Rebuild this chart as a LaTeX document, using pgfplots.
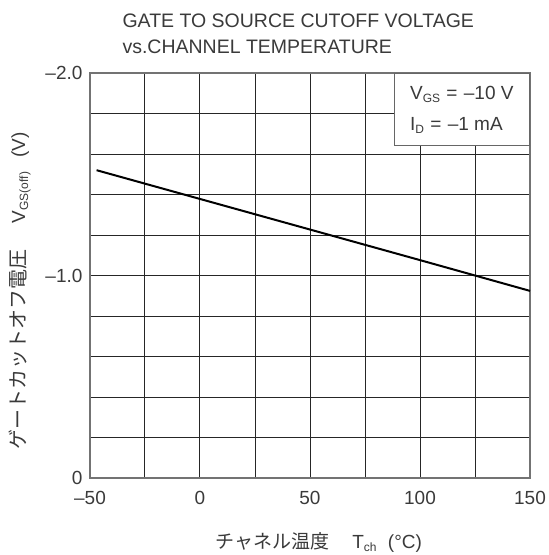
\documentclass[border=0pt]{standalone}
\usepackage{pgfplots}
\pgfplotsset{compat=1.18}
\usepackage{fontspec}
\setmainfont{Liberation Sans}
\newfontfamily\jp{Noto Sans CJK JP}
\definecolor{txt}{HTML}{3A3A3A}
\newcommand\sub[1]{\raisebox{-0.3ex}{\fontsize{12bp}{12bp}\selectfont #1}}
\begin{document}
\begin{tikzpicture}
\path[use as bounding box] (-90bp,-77bp) rectangle (459bp,478bp);
\begin{axis}[
  anchor=south west, at={(0,0)},
  scale only axis,
  width=440bp, height=405bp,
  xmin=-50, xmax=150, ymin=-2, ymax=0,
  y dir=reverse,
  xtick={-50,0,50,100,150},
  xticklabels={–50,0,50,100,150},
  minor xtick={-25,25,75,125},
  ytick={-2,-1,0},
  yticklabels={–2.0,–1.0,0},
  minor ytick={-1.8,-1.6,-1.4,-1.2,-0.8,-0.6,-0.4,-0.2},
  major tick length=0pt, minor tick length=0pt,
  grid=both,
  major grid style={black!85, line width=1bp},
  minor grid style={black!85, line width=1bp},
  axis line style={black!55, line width=1.6bp},
  tick label style={font=\fontsize{19bp}{19bp}\selectfont, text=txt},
  xticklabel style={yshift=-10bp},
  yticklabel style={xshift=-4bp},
  xlabel={{\jp チャネル温度}\hspace{1.2em}T\sub{ch}\hspace{0.6em}(°C)},
  xlabel style={at={(axis description cs:0.52,-0.16)}, anchor=center, font=\fontsize{19bp}{19bp}\selectfont, text=txt},
  ylabel={{\jp\fontsize{20bp}{20bp}\selectfont ゲートカットオフ電圧}\hspace{26bp}V\sub{GS(off)}\hspace{14bp}(V)},
  ylabel style={at={(axis description cs:-0.16,0.462)}, anchor=center, rotate=0, font=\fontsize{19bp}{19bp}\selectfont, text=txt},
  clip=false,
]
\addplot[black, line width=2bp] coordinates {(-47,-1.52) (0,-1.378) (50,-1.227) (100,-1.076) (125,-1.0) (150,-0.924)};
\node[anchor=north east, draw=black!60, fill=white, line width=1.3bp,
      minimum width=135bp, minimum height=72bp, align=left, inner sep=4bp,
      font=\fontsize{19bp}{31bp}\selectfont, text=txt]
  at (axis cs:150,-2) {V\sub{GS}\,\,=\,\,–10 V\\I\sub{D}\,\,=\,\,–1 mA};
\end{axis}
\node[anchor=base west, font=\fontsize{19.5bp}{19.5bp}\selectfont, text=txt] at (29bp,450bp) {GATE TO SOURCE CUTOFF VOLTAGE};
\node[anchor=base west, font=\fontsize{19.5bp}{19.5bp}\selectfont, text=txt] at (29bp,424bp) {vs.CHANNEL TEMPERATURE};
\end{tikzpicture}
\end{document}
